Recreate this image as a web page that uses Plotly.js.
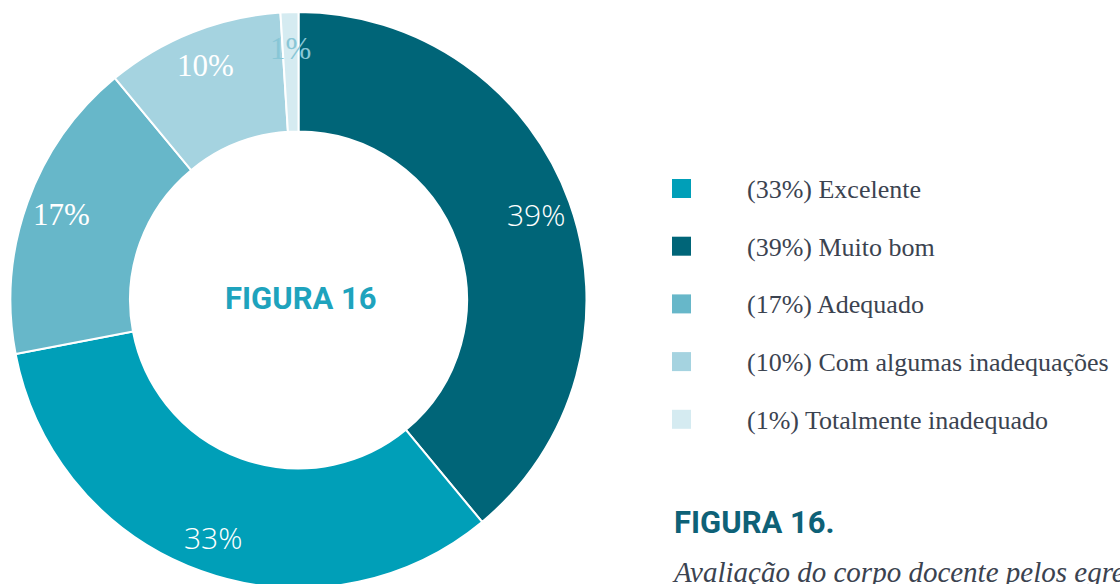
<!DOCTYPE html>
<html>
<head>
<meta charset="utf-8">
<script src="https://cdn.plot.ly/plotly-3.0.1.min.js"></script>
<style>
html,body{margin:0;padding:0;overflow:hidden;background:#fff;}
#chart{width:1120px;height:600px;}
</style>
</head>
<body>
<div id="chart"></div>
<script>
// Data (pie order, clockwise from 12 o'clock)
const sliceNames = ["Muito bom", "Excelente", "Adequado", "Com algumas inadequações", "Totalmente inadequado"];
const sliceValues = [39, 33, 17, 10, 1];
const sliceColors = ["#006578", "#009fb8", "#67b7c9", "#a5d3e0", "#d5ebf1"];
// Legend order (indices into the slice arrays)
const legendOrder = [1, 0, 2, 3, 4];
const centerTitle = "FIGURA 16";
const figureTitle = "FIGURA 16.";
const figureCaption = "Avaliação do corpo docente pelos egressos";

// styles
const labelFontFamilies = ["Open Sans, sans-serif", "Open Sans, sans-serif", "Liberation Serif, serif", "Liberation Serif, serif", "Liberation Serif, serif"];
const labelFontColors = ["#ffffff", "#ffffff", "#ffffff", "#ffffff", "#88c6d6"];

const W = 1120, H = 600;
const cx = 298.5, cy = 300, R = 288;
const px = x => x / W;
const py = y => 1 - y / H;

const annotations = [];
const shapes = [];

// slice percentage labels
const total = sliceValues.reduce((a, b) => a + b, 0);
let cum = 0;
sliceValues.forEach((v, i) => {
  const mid = (cum + v / 2) / total * 2 * Math.PI;
  cum += v;
  const r = 252;
  const x = cx + r * Math.sin(mid);
  const y = cy - r * Math.cos(mid);
  annotations.push({
    xref: "paper", yref: "paper", x: px(x), y: py(y),
    xanchor: "center", yanchor: "middle", showarrow: false,
    text: Math.round(v / total * 100) + "%",
    font: {family: labelFontFamilies[i], size: i < 2 ? 30 : 31, color: labelFontColors[i], weight: i < 2 ? 300 : "normal"}
  });
});

// center title
annotations.push({
  xref: "paper", yref: "paper", x: px(300.5), y: py(298.5),
  xanchor: "center", yanchor: "middle", showarrow: false,
  text: "<b>" + centerTitle + "</b>",
  font: {family: "Roboto", size: 31, color: "#1ea3bd"}
});

// legend
legendOrder.forEach((idx, k) => {
  const yc = 188.5 + k * 57.7;
  shapes.push({
    type: "rect", xref: "paper", yref: "paper",
    x0: px(672), x1: px(691), y0: py(yc - 9.5), y1: py(yc + 9.5),
    fillcolor: sliceColors[idx], line: {width: 0}
  });
  annotations.push({
    xref: "paper", yref: "paper", x: px(745), y: py(yc + 1),
    xanchor: "left", yanchor: "middle", showarrow: false,
    text: "(" + sliceValues[idx] + "%) " + sliceNames[idx],
    font: {family: "Liberation Serif, serif", size: 26, color: "#3b4350"}
  });
});

// figure title & caption
annotations.push({
  xref: "paper", yref: "paper", x: px(672), y: py(522),
  xanchor: "left", yanchor: "middle", showarrow: false,
  text: "<b>" + figureTitle + "</b>",
  font: {family: "Roboto", size: 31, color: "#0e6177"}
});
annotations.push({
  xref: "paper", yref: "paper", x: px(670), y: py(572),
  xanchor: "left", yanchor: "middle", showarrow: false,
  text: "<i>" + figureCaption + "</i>",
  font: {family: "Liberation Serif, serif", size: 29, color: "#3b4350"}
});

const trace = {
  type: "pie",
  labels: sliceNames,
  values: sliceValues,
  sort: false,
  direction: "clockwise",
  rotation: 0,
  hole: 0.585,
  textinfo: "none",
  hoverinfo: "none",
  showlegend: false,
  marker: {colors: sliceColors, line: {color: "#ffffff", width: 2}},
  domain: {x: [px(cx - R), px(cx + R)], y: [py(cy + R), py(cy - R)]}
};

Plotly.newPlot("chart", [trace], {
  width: W, height: H,
  margin: {l: 0, r: 0, t: 0, b: 0},
  paper_bgcolor: "#ffffff",
  showlegend: false,
  annotations: annotations,
  shapes: shapes
}, {displayModeBar: false, staticPlot: true});
</script>
</body>
</html>
